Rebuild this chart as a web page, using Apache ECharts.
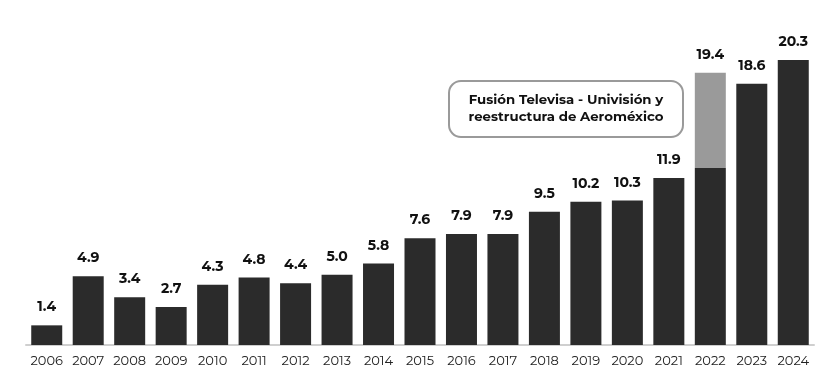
<!DOCTYPE html>
<html><head><meta charset="utf-8">
<script src="https://cdn.jsdelivr.net/npm/echarts@6/dist/echarts.min.js"></script>
<style>html,body{margin:0;padding:0;background:#fff}#c{width:825px;height:373px}</style>
</head><body><div id="c"></div>
<script>
const years = ['2006','2007','2008','2009','2010','2011','2012','2013','2014','2015','2016','2017','2018','2019','2020','2021','2022','2023','2024'];
const baseValues = [1.4,4.9,3.4,2.7,4.3,4.8,4.4,5.0,5.8,7.6,7.9,7.9,9.5,10.2,10.3,11.9,12.6,18.6,20.3];
const extraValues = [null,null,null,null,null,null,null,null,null,null,null,null,null,null,null,null,6.8,null,null];
const totalLabels = ['1.4','4.9','3.4','2.7','4.3','4.8','4.4','5.0','5.8','7.6','7.9','7.9','9.5','10.2','10.3','11.9','19.4','18.6','20.3'];
const noteLines = ['Fusión Televisa - Univisión y','reestructura de Aeroméxico'];

const FONT = 'Montserrat, "DejaVu Sans", sans-serif';
const chart = echarts.init(document.getElementById('c'), null, {renderer:'canvas'});
const labelStyle = {
  show: true, position: 'top', distance: 11,
  fontFamily: FONT, fontWeight: 'bold', fontSize: 14, color: '#111'
};
chart.setOption({
  animation: false,
  grid: {left: 26, right: 11, top: 60, bottom: 28},
  xAxis: {
    type: 'category', data: years,
    axisLine: {lineStyle: {color: '#cfcfcf', width: 2}},
    axisTick: {show: false},
    axisLabel: {interval: 0, fontFamily: FONT, fontSize: 13, color: '#222', margin: 10}
  },
  yAxis: {type: 'value', min: 0, max: 20.3, show: false, splitLine: {show: false}},
  series: [
    {
      type: 'bar', stack: 's', data: baseValues, barWidth: 31,
      itemStyle: {color: '#2b2b2b'},
      label: Object.assign({}, labelStyle, {
        formatter: p => extraValues[p.dataIndex] == null ? totalLabels[p.dataIndex] : ''
      })
    },
    {
      type: 'bar', stack: 's', data: extraValues, barWidth: 31,
      itemStyle: {color: '#9a9a9a'},
      label: Object.assign({}, labelStyle, {
        formatter: p => totalLabels[p.dataIndex]
      })
    }
  ],
  graphic: [
    {
      type: 'rect', left: 448, top: 80,
      shape: {width: 234, height: 56, r: 12},
      style: {fill: '#fff', stroke: '#9a9a9a', lineWidth: 2}
    },
    {
      type: 'text', x: 566, y: 92,
      style: {
        text: noteLines.join('\n'),
        textAlign: 'center', textVerticalAlign: 'top',
        font: 'bold 13.3px ' + FONT, fill: '#111', lineHeight: 17
      }
    }
  ]
});
</script></body></html>
